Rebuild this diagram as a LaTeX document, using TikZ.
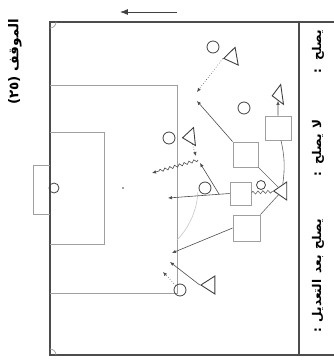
\documentclass[tikz,border=0pt]{standalone}
\usepackage{fontspec}
\newfontfamily\arabicfont[Script=Arabic]{DejaVu Sans}
\TeXXeTstate=1
\usetikzlibrary{arrows.meta, positioning, shapes.geometric, decorations.pathmorphing}

\begin{document}
\begin{tikzpicture}[
    x=1pt, y=-1pt,
    player/.style={circle, draw=black!75, line width=0.8pt, minimum size=12pt, inner sep=0pt},
    rival/.style={isosceles triangle, isosceles triangle stretches, shape border rotate=180,
        draw=black!75, line width=0.9pt, minimum width=18pt, minimum height=13pt, inner sep=0pt},
    zone/.style={draw=gray!75, line width=0.8pt, minimum width=24pt, minimum height=24pt, inner sep=0pt},
    fieldline/.style={draw=gray!75, line width=0.7pt},
    frameline/.style={draw=black!70, line width=1.3pt},
    link/.style={draw=gray!80!black, line width=0.6pt},
    pass/.style={draw=black!70, line width=0.6pt, -{Latex[length=4pt, width=3.5pt]}},
    run/.style={pass, dotted},
    dribble/.style={pass, decorate, decoration={snake, amplitude=1.4pt, segment length=5pt, post length=5pt}},
    note/.style={font=\arabicfont\bfseries\fontsize{12}{14}\selectfont, rotate=90, inner sep=0pt}
]
\useasboundingbox (0,0) rectangle (334,360);

% Frame and field
\draw[frameline] (334,22) -- (50,22) -- (50,355) -- (334,355);
\draw[frameline] (299,22) -- (299,355);
\draw[fieldline] (56,22) arc[start angle=0, end angle=90, radius=6];
\draw[fieldline] (50,349) arc[start angle=-90, end angle=0, radius=6];
\draw[fieldline] (50,85) -- (177,85) -- (177,293) -- (50,293);
\draw[fieldline] (50,132) -- (104,132) -- (104,244) -- (50,244);
\draw[fieldline] (50,165) -- (33,165) -- (33,214) -- (50,214);
\fill[gray] (123,188) circle (1.2);
\begin{scope}
  \clip (177,192) rectangle (298,300);
  \draw[draw=gray!45, line width=0.6pt] (123,188) circle (75);
\end{scope}

% Direction of play
\coordinate (dirA) at (177,12);
\coordinate (dirB) at (120,12);
\draw[black!75, line width=0.8pt, -{Latex[length=8pt, width=6pt]}] (dirA) -- (dirB);

% Players
\node[player, minimum size=10pt] (gk) at (54,188) {};
\node[player] (c1) at (213,47) {};
\node[player] (c2) at (244,108) {};
\node[player] (c3) at (169,138) {};
\node[player] (c4) at (205,188) {};
\node[player, minimum size=9pt] (c5) at (261,185) {};
\node[player] (c6) at (180,290) {};

% Opponents
\node[rival, rotate=10] (t1) at (232,57) {};
\node[rival, rotate=8, minimum width=20pt, minimum height=10pt] (t2) at (278,95) {};
\node[rival] (tb) at (282,191) {};
\node[rival, rotate=6, minimum height=12pt] (t4) at (190,137) {};
\node[rival, minimum height=14pt] (t5) at (210,285) {};

% Zones
\node[zone, minimum width=26pt] (s1) at (278,128) {};
\node[zone, minimum width=25pt, minimum height=25pt] (s2) at (245.5,154.5) {};
\node[zone, minimum width=21pt, minimum height=23pt] (s3) at (240.5,193.5) {};
\node[zone, minimum width=27pt, minimum height=26pt] (s4) at (246.5,228) {};

% Free ends
\coordinate (e1) at (197,92);
\coordinate (e2) at (197,101);
\coordinate (e3) at (168,198);
\coordinate (j3) at (219,194);
\coordinate (e5) at (200,163);
\coordinate (e6) at (196,156);
\coordinate (d6) at (198,160);
\coordinate (e7) at (152,173);
\coordinate (e4) at (172,253);
\coordinate (e8) at (170,262);
\coordinate (e9) at (163,272);

% Passing lanes
\draw[link] (tb) to[bend right=10] (s1);
\draw[link] (tb) -- (s2.south east);
\draw[link] (tb) -- (s4.north east);
\draw[link, decorate, decoration={snake, amplitude=1.5pt, segment length=5pt}] (s3) -- (tb);

% Moves
\draw[pass] (s1) -- (t2);
\draw[run] (t1.apex) -- (e1);
\draw[pass] (s2.north west) -- (e2);
\draw[pass] (s3.west) -- (e3);
\draw[pass] (j3) -- (e5);
\draw[run] (t4) -- (e6);
\draw[dribble] (d6) -- (e7);
\draw[pass] (s4.west) -- (e4);
\draw[pass] (t5.apex) -- (e8);
\draw[run] (c6) -- (e9);

% Texts
\node[note, font=\arabicfont\bfseries\fontsize{13.5}{15}\selectfont] (title) at (15,62) {\beginR الموقف \beginL(٢٥)\endL\endR};
\node[note] (ok) at (318,52) {\beginR يصلح\hspace{9pt}:\endR};
\node[note] (notok) at (318,148) {\beginR لا\hspace{2pt} يصلح\hspace{8pt}:\endR};
\node[note] (fixed) at (318,276) {\beginR يصلح\hspace{2pt} بعد\hspace{2pt} التعديل\hspace{6pt}:\endR};
\end{tikzpicture}
\end{document}
